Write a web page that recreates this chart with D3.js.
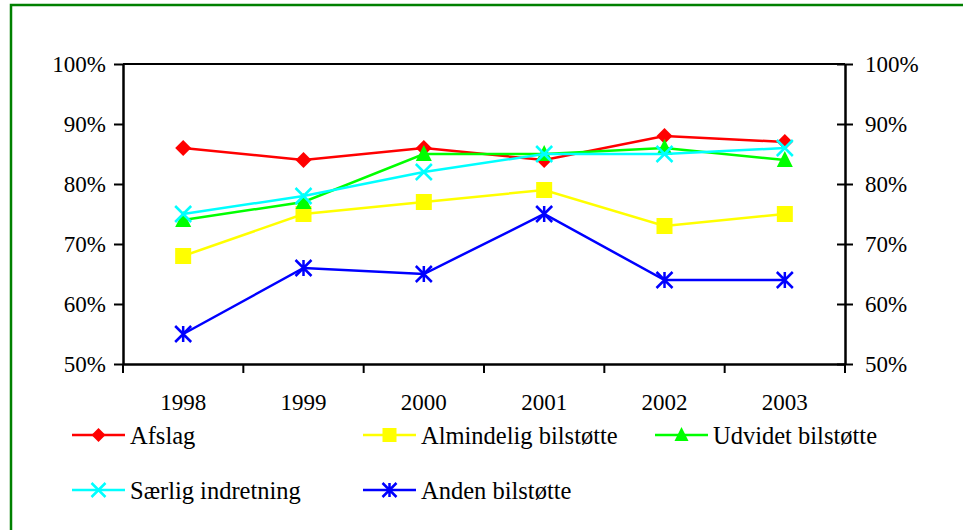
<!DOCTYPE html>
<html><head><meta charset="utf-8">
<script src="https://cdn.jsdelivr.net/npm/d3@7"></script>
<style>html,body{margin:0;padding:0;background:#fff;}svg{display:block;}</style>
</head><body>
<svg id="chart" width="963" height="530"></svg>
<script>
const years = ["1998","1999","2000","2001","2002","2003"];
const yTicks = [0.5,0.6,0.7,0.8,0.9,1.0];
const seriesNames = ["Afslag","Almindelig bilstøtte","Udvidet bilstøtte","Særlig indretning","Anden bilstøtte"];
const afslag     = [0.86,0.84,0.86,0.84,0.88,0.87];
const almindelig = [0.68,0.75,0.77,0.79,0.73,0.75];
const udvidet    = [0.74,0.77,0.85,0.85,0.86,0.84];
const saerlig    = [0.75,0.78,0.82,0.85,0.85,0.86];
const anden      = [0.55,0.66,0.65,0.75,0.64,0.64];

const colors = ["#FF0000","#FFFF00","#00FF00","#00FFFF","#0000FF"];
const markers = ["diamond","square","triangle","x","asterisk"];
const values = [afslag, almindelig, udvidet, saerlig, anden];

const svg = d3.select("#chart");
const font = "Liberation Serif";
const fsize = 23;

svg.append("rect").attr("x",11).attr("y",5).attr("width",1000).attr("height",600)
  .attr("fill","none").attr("stroke","#008000").attr("stroke-width",2.5);

const L=123, R=845, T=64, B=364;
const x = d3.scaleBand().domain(years).range([L,R]);
const y = d3.scaleLinear().domain([0.5,1.0]).range([B,T]);

svg.append("line").attr("x1",L).attr("x2",R).attr("y1",T).attr("y2",T).attr("stroke","#000").attr("stroke-width",2);

const fmt = d3.format(".0%");
const gl = svg.append("g").attr("transform",`translate(${L},0)`)
  .call(d3.axisLeft(y).tickValues(yTicks).tickFormat(fmt).tickSizeInner(9).tickSizeOuter(0).tickPadding(8));
const gr = svg.append("g").attr("transform",`translate(${R},0)`)
  .call(d3.axisRight(y).tickValues(yTicks).tickFormat(fmt).tickSizeInner(8).tickSizeOuter(0).tickPadding(12));
gr.selectAll(".tick line").attr("x1",-8);
const gb = svg.append("g").attr("transform",`translate(0,${B})`)
  .call(d3.axisBottom(x).tickSize(0).tickPadding(30));
const bounds = years.map(d=>x(d)).concat([R]);
svg.append("g").selectAll("line").data(bounds).join("line")
  .attr("x1",d=>d).attr("x2",d=>d).attr("y1",B).attr("y2",B+9)
  .attr("stroke","#000").attr("stroke-width",2);

[gl,gr,gb].forEach(g=>{
  g.attr("font-family",font).attr("font-size",fsize);
  g.selectAll(".domain").attr("stroke","#000").attr("stroke-width",2.5);
  g.selectAll(".tick line").attr("stroke","#000").attr("stroke-width",2);
  g.selectAll("text").attr("fill","#000");
});

function drawMarker(g, type, color, cx, cy, s){
  s = s || 8;
  if(type==="diamond"){
    g.append("path").attr("d",`M${cx},${cy-s}L${cx+s},${cy}L${cx},${cy+s}L${cx-s},${cy}Z`).attr("fill",color);
  } else if(type==="square"){
    g.append("rect").attr("x",cx-s).attr("y",cy-s).attr("width",2*s).attr("height",2*s).attr("fill",color);
  } else if(type==="triangle"){
    g.append("path").attr("d",`M${cx},${cy-s-1}L${cx+s},${cy+s-1}L${cx-s},${cy+s-1}Z`).attr("fill",color);
  } else if(type==="x"){
    g.append("path").attr("d",`M${cx-s},${cy-s}L${cx+s},${cy+s}M${cx-s},${cy+s}L${cx+s},${cy-s}`)
      .attr("stroke",color).attr("stroke-width",2.5).attr("fill","none");
  } else if(type==="asterisk"){
    g.append("path").attr("d",`M${cx-s},${cy-s}L${cx+s},${cy+s}M${cx-s},${cy+s}L${cx+s},${cy-s}M${cx},${cy-s}L${cx},${cy+s}`)
      .attr("stroke",color).attr("stroke-width",2.5).attr("fill","none");
  }
}

const line = d3.line().x((d,i)=>x(years[i])+x.bandwidth()/2).y(d=>y(d));
values.forEach((vals,si)=>{
  const g = svg.append("g");
  g.append("path").datum(vals).attr("d",line).attr("fill","none")
    .attr("stroke",colors[si]).attr("stroke-width",2.5);
  vals.forEach((v,i)=>drawMarker(g, markers[si], colors[si], x(years[i])+x.bandwidth()/2, y(v)));
});

const legendPos = [[72,435],[363,435],[655,435],[72,490],[363,490]];
seriesNames.forEach((name,si)=>{
  const [lx,ly] = legendPos[si];
  const g = svg.append("g");
  g.append("line").attr("x1",lx).attr("x2",lx+53).attr("y1",ly).attr("y2",ly)
    .attr("stroke",colors[si]).attr("stroke-width",2.5);
  drawMarker(g, markers[si], colors[si], lx+26.5, ly, 7);
  g.append("text").attr("x",lx+58).attr("y",ly).attr("dy","0.35em")
    .attr("font-family",font).attr("font-size",24.5).attr("fill","#000").text(name);
});
</script>
</body></html>
